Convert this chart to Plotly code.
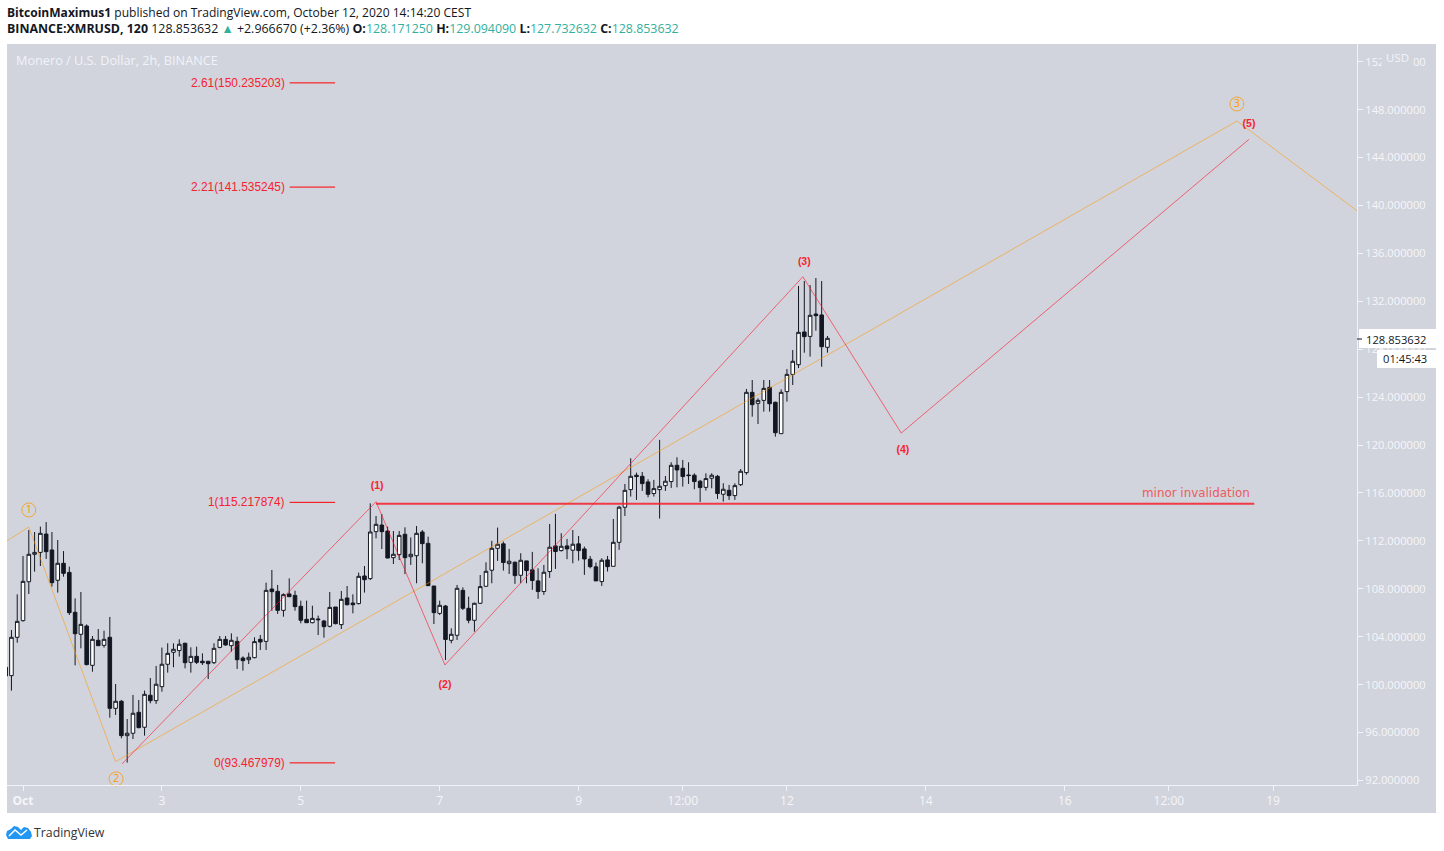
import pandas as pd
import plotly.graph_objects as go

# 2h candles, first one is Sep 30 18:00
start_date = "2020-09-30 18:00"
opens = [101.45, 100.75, 103.95, 105.34, 108.59, 110.88, 111.04, 112.57, 111.24, 108.71, 110.13, 109.37,
         106.04, 104.20, 104.89, 101.61, 103.70, 103.28, 103.95, 98.02, 98.61, 95.74, 95.94, 97.69,
         96.44, 99.11, 98.66, 99.83, 101.70, 102.70, 102.84, 103.45, 101.86, 102.36, 101.95, 101.95,
         101.83, 103.11, 103.78, 103.25, 103.61, 102.22, 102.08, 102.25, 103.78, 103.61, 107.98, 107.79,
         106.20, 107.57, 107.45, 106.54, 105.45, 105.17, 105.48, 105.31, 104.87, 106.48, 105.01, 107.23,
         106.81, 106.76, 109.07, 108.85, 112.77, 113.32, 112.82, 110.60, 110.85, 112.55, 110.68, 110.76,
         112.74, 111.79, 108.23, 105.95, 106.56, 103.70, 104.12, 107.87, 106.37, 105.37, 106.79, 108.21,
         109.55, 111.38, 111.75, 110.10, 110.22, 109.13, 110.33, 109.58, 108.66, 107.77, 109.44, 111.58,
         111.19, 111.58, 111.22, 111.75, 111.33, 110.47, 109.83, 108.60, 110.41, 109.88, 111.88, 114.81,
         116.28, 117.48, 117.39, 116.92, 115.95, 116.28, 116.61, 116.95, 118.31, 118.06, 117.50, 117.48,
         116.98, 116.47, 117.23, 117.39, 115.89, 116.22, 115.78, 116.69, 117.70, 124.40, 123.48, 123.73,
         124.82, 123.57, 120.95, 124.46, 125.90, 126.71, 129.44, 129.07, 130.94, 130.86, 128.16]
highs = [101.80, 104.56, 107.54, 110.74, 112.91, 112.74, 113.19, 113.57, 112.74, 112.07, 111.15, 109.85,
         107.20, 107.73, 105.03, 104.06, 104.64, 104.50, 105.65, 100.05, 98.72, 97.13, 99.14, 98.72,
         99.50, 100.55, 101.56, 103.09, 103.45, 103.45, 103.78, 103.50, 103.11, 103.17, 102.61, 101.95,
         103.45, 104.06, 104.06, 104.28, 104.00, 102.36, 102.67, 103.95, 104.14, 108.51, 109.57, 108.32,
         107.62, 108.87, 107.84, 107.01, 107.01, 106.59, 105.76, 105.40, 107.73, 106.48, 107.82, 108.23,
         107.54, 109.35, 109.90, 115.13, 114.08, 114.24, 113.19, 112.82, 112.82, 113.13, 112.29, 113.24,
         112.91, 112.35, 108.23, 107.01, 106.65, 104.70, 108.32, 108.12, 107.34, 106.84, 109.15, 110.21,
         112.00, 113.11, 111.94, 111.33, 110.27, 110.97, 110.33, 111.08, 109.71, 109.99, 113.41, 114.25,
         112.64, 112.16, 112.91, 112.41, 111.52, 110.74, 110.19, 110.55, 110.74, 113.83, 114.92, 116.75,
         118.89, 117.70, 117.75, 117.14, 117.09, 120.43, 117.42, 118.56, 118.98, 118.76, 118.56, 117.64,
         117.09, 117.64, 117.64, 117.50, 116.81, 116.67, 116.81, 118.00, 124.68, 125.43, 123.90, 125.43,
         125.43, 123.62, 124.65, 126.35, 127.93, 133.28, 133.69, 133.36, 133.94, 133.69, 129.10]
lows = [100.50, 99.50, 103.50, 105.26, 107.57, 109.43, 109.90, 110.49, 108.18, 107.68, 109.01, 105.81,
        101.61, 103.03, 101.61, 101.08, 103.25, 103.09, 97.24, 97.47, 95.52, 93.49, 95.46, 96.35,
        95.74, 98.44, 98.39, 99.41, 101.00, 101.45, 102.34, 101.36, 101.00, 101.72, 101.64, 100.47,
        101.72, 103.03, 103.25, 102.75, 101.31, 101.17, 101.72, 102.20, 102.89, 102.89, 106.17, 105.90,
        105.67, 107.34, 106.17, 105.12, 105.17, 105.12, 104.14, 103.92, 104.78, 105.03, 104.64, 106.62,
        105.95, 106.70, 107.68, 108.73, 112.21, 111.32, 110.54, 110.07, 110.40, 109.23, 109.99, 108.46,
        110.13, 108.23, 105.06, 105.81, 102.06, 103.45, 103.73, 106.23, 105.12, 104.42, 106.73, 108.18,
        108.46, 110.33, 109.52, 109.24, 108.41, 108.46, 108.46, 107.91, 107.16, 107.49, 108.91, 109.66,
        111.11, 110.47, 110.13, 110.35, 109.16, 109.71, 108.66, 108.24, 109.44, 109.85, 111.25, 114.08,
        115.70, 115.42, 116.17, 115.64, 115.70, 113.86, 116.17, 116.42, 116.47, 116.53, 116.75, 116.31,
        115.25, 116.20, 116.39, 115.50, 115.28, 115.42, 115.42, 116.58, 117.53, 122.37, 121.76, 122.79,
        122.79, 120.70, 120.92, 123.62, 125.01, 126.43, 127.71, 127.38, 129.55, 126.54, 127.71]
closes = [100.72, 103.95, 105.28, 108.62, 110.88, 111.04, 112.63, 111.10, 108.51, 110.13, 109.29, 106.01,
          104.25, 105.03, 101.67, 103.78, 103.25, 103.78, 98.02, 98.61, 95.74, 95.94, 97.61, 96.41,
          99.19, 98.66, 100.03, 101.70, 102.61, 102.95, 103.37, 101.83, 102.36, 101.86, 101.83, 101.75,
          103.03, 103.78, 103.31, 103.70, 102.08, 102.00, 102.28, 103.59, 103.56, 107.87, 107.76, 106.20,
          107.51, 107.34, 106.51, 105.37, 105.17, 105.53, 105.42, 104.84, 106.45, 105.09, 107.12, 106.67,
          106.67, 109.04, 108.76, 112.74, 113.38, 112.77, 110.57, 110.88, 112.46, 110.60, 110.88, 112.63,
          111.77, 108.26, 106.01, 106.62, 103.77, 104.20, 108.04, 106.37, 105.37, 106.79, 108.18, 109.46,
          111.38, 111.72, 110.19, 110.30, 109.10, 110.38, 109.52, 108.69, 107.77, 109.38, 111.47, 111.11,
          111.55, 111.33, 111.72, 111.19, 110.49, 109.85, 108.66, 110.38, 109.85, 111.88, 114.81, 116.22,
          117.39, 117.37, 116.78, 115.89, 116.36, 116.56, 116.98, 118.31, 117.92, 117.37, 117.45, 116.95,
          116.45, 117.20, 117.48, 115.95, 116.31, 115.78, 116.61, 117.81, 124.40, 123.37, 123.73, 124.73,
          123.45, 121.03, 124.40, 125.90, 126.99, 129.41, 129.05, 130.83, 130.80, 128.21, 128.91]

# elliott wave drawings
red_wave_dates = ["2020-10-02 10:13", "2020-10-06 02:00", "2020-10-07 01:50", "2020-10-12 05:30",
                  "2020-10-13 15:30", "2020-10-18 15:40"]
red_wave_prices = [93.38, 115.27, 101.64, 134.05, 121.00, 145.52]
orange_wave_dates = ["2020-09-30 18:28", "2020-10-01 02:00", "2020-10-02 08:00", "2020-10-18 11:30",
                     "2020-10-20 05:00"]
orange_wave_prices = [112.00, 113.16, 93.57, 147.05, 139.56]

red_label_text = ["(1)", "(2)", "(3)", "(4)", "(5)"]
red_label_dates = ["2020-10-06 02:24", "2020-10-07 01:50", "2020-10-12 06:00", "2020-10-13 16:05",
                   "2020-10-18 15:40"]
red_label_prices = [116.51, 99.97, 135.28, 119.55, 146.80]
orange_label_text = ["1", "2", "3"]
orange_label_dates = ["2020-10-01 02:00", "2020-10-02 08:10", "2020-10-18 11:30"]
orange_label_prices = [114.58, 92.13, 148.47]

fib_ratios = ["2.61", "2.21", "1", "0"]
fib_prices = [150.235203, 141.535245, 115.217874, 93.467979]
fib_start = "2020-10-04 20:10"
fib_end = "2020-10-05 11:50"

invalidation_dates = ["2020-10-06 02:00", "2020-10-18 17:30"]
invalidation_prices = [115.10, 115.10]

y_ticks = list(range(92, 156, 4))
x_tick_dates = ["2020-10-01", "2020-10-03", "2020-10-05", "2020-10-07", "2020-10-09", "2020-10-10 12:00",
                "2020-10-12", "2020-10-14", "2020-10-16", "2020-10-17 12:00", "2020-10-19"]
x_tick_labels = ["<b>Oct</b>", "3", "5", "7", "9", "12:00", "12", "14", "16", "12:00", "19"]

BG = "#D1D4DC"
DARK = "#131722"
RED = "#F7232F"
TEAL = "#32B09E"
FONT = "Open Sans"
W, H = 1444, 851
LEFT, RIGHT, TOP, BOTTOM = 7, 1357, 44, 785


# paper coordinates are relative to the plot area, so screen pixels need converting
def px(x):
    return (x - LEFT) / (RIGHT - LEFT)


def py(y):
    return (BOTTOM - y) / (BOTTOM - TOP)


def paper_path(points, close=False):
    path = "M " + " L ".join("%f %f" % (px(x), py(y)) for x, y in points)
    return path + " Z" if close else path


dates = pd.date_range(start_date, periods=len(opens), freq="2h")

fig = go.Figure()
fig.add_trace(go.Candlestick(x=dates, open=opens, high=highs, low=lows, close=closes,
                             whiskerwidth=0,
                             increasing=dict(line=dict(color=DARK, width=1), fillcolor="#FFFFFF"),
                             decreasing=dict(line=dict(color=DARK, width=1), fillcolor=DARK),
                             hoverinfo="skip", showlegend=False))
fig.add_trace(go.Scatter(x=orange_wave_dates, y=orange_wave_prices, mode="lines",
                         line=dict(color="rgba(255,152,0,0.55)", width=1), showlegend=False))
fig.add_trace(go.Scatter(x=red_wave_dates, y=red_wave_prices, mode="lines",
                         line=dict(color="rgba(255,20,40,0.6)", width=1), showlegend=False))
fig.add_trace(go.Scatter(x=invalidation_dates, y=invalidation_prices, mode="lines",
                         line=dict(color="rgba(245,30,45,0.85)", width=1.8), showlegend=False))
for p in fib_prices:
    fig.add_trace(go.Scatter(x=[fib_start, fib_end], y=[p, p], mode="lines",
                             line=dict(color="#FF0000", width=1), showlegend=False))
fig.add_trace(go.Scatter(x=red_label_dates, y=red_label_prices, mode="text",
                         text=["<b>%s</b>" % t for t in red_label_text],
                         textposition="middle center",
                         textfont=dict(color=RED, size=10.5, family="Liberation Sans"), showlegend=False))
fig.add_trace(go.Scatter(x=orange_label_dates, y=orange_label_prices, mode="markers+text",
                         text=orange_label_text, textposition="middle center",
                         marker=dict(symbol="circle-open", size=14, color="#F7A530", line=dict(width=1)),
                         cliponaxis=False,
                         textfont=dict(color="#FF9800", size=11, family=FONT), showlegend=False))

annotations = []
for r, p in zip(fib_ratios, fib_prices):
    annotations.append(dict(x="2020-10-04 19:15", y=p, xref="x", yref="y", xanchor="right", yanchor="middle",
                            text="%s(%.6f)" % (r, p), showarrow=False,
                            font=dict(color=RED, size=11.9, family="Liberation Sans")))
annotations.append(dict(x=px(1252), y=py(493), xref="paper", yref="paper", xanchor="right", yanchor="middle",
                        text="minor invalidation", showarrow=False,
                        font=dict(color="#EE5A60", size=11.9, family="DejaVu Sans")))

header1 = "<b>BitcoinMaximus1</b> published on TradingView.com, October 12, 2020 14:14:20 CEST"
header2 = ("<b>BINANCE:XMRUSD, 120</b> 128.853632 <span style='color:%s'>▲</span> +2.966670 (+2.36%%) "
           "<b>O:</b><span style='color:%s'>128.171250</span> <b>H:</b><span style='color:%s'>129.094090</span> "
           "<b>L:</b><span style='color:%s'>127.732632</span> <b>C:</b><span style='color:%s'>128.853632</span>"
           % (TEAL, TEAL, TEAL, TEAL, TEAL))
annotations += [
    dict(x=px(6), y=py(13), text=header1, font=dict(color="#131722", size=12.05, family=FONT)),
    dict(x=px(6), y=py(29), text=header2, font=dict(color="#131722", size=12.4, family=FONT)),
    dict(x=px(15), y=py(60), text="Monero / U.S. Dollar, 2h, BINANCE", font=dict(color="#F0F3FA", size=12.7, family=FONT)),
    dict(x=px(33), y=py(832), text="TradingView", font=dict(color="#333333", size=12.3, family=FONT)),
]
for a in annotations[-4:]:
    a.update(xref="paper", yref="paper", xanchor="left", yanchor="middle", showarrow=False, borderpad=0)

# price scale overlays
annotations += [
    dict(x=px(1397), y=py(58), text="USD", xref="paper", yref="paper", xanchor="center", yanchor="middle",
         showarrow=False, bgcolor=BG, borderpad=4, font=dict(color="#F0F3FA", size=11.5, family=FONT)),
    dict(x=px(1429), y=py(339), text="128.853632", xref="paper", yref="paper", xanchor="right", yanchor="middle",
         showarrow=False, font=dict(color=DARK, size=11.2, family=FONT)),
    dict(x=px(1429), y=py(358), text="01:45:43", xref="paper", yref="paper", xanchor="right", yanchor="middle",
         showarrow=False, font=dict(color=DARK, size=11.2, family=FONT)),
]

logo_outline = [(8, 839), (6, 835), (7, 831), (11, 829), (14, 826), (18, 827), (21, 830), (24, 827), (28, 828),
                (31, 832), (32, 836), (30, 839)]
logo_wave = [(9, 836), (15, 830), (21, 835), (27, 830)]

shapes = [
    dict(type="rect", xref="paper", yref="paper", x0=px(7), x1=px(1436), y0=py(813), y1=py(44),
         fillcolor=BG, line=dict(width=0), layer="below"),
    dict(type="rect", xref="paper", yref="paper", x0=px(1359), x1=px(1436), y0=py(348), y1=py(329),
         fillcolor="#FFFFFF", line=dict(width=0), layer="above"),
    dict(type="rect", xref="paper", yref="paper", x0=px(1377), x1=px(1436), y0=py(368), y1=py(350),
         fillcolor="#FFFFFF", line=dict(width=0), layer="above"),
    dict(type="line", xref="paper", yref="paper", x0=px(1357), x1=px(1362), y0=py(339), y1=py(339),
         line=dict(color=DARK, width=1), layer="above"),
    dict(type="path", xref="paper", yref="paper", fillcolor="#2196F3", line=dict(width=0),
         path=paper_path(logo_outline, close=True)),
    dict(type="path", xref="paper", yref="paper", line=dict(color="#FFFFFF", width=1.5),
         path=paper_path(logo_wave)),
]

fig.update_layout(
    width=W, height=H, autosize=False,
    margin=dict(l=LEFT, r=W - RIGHT, t=TOP, b=H - BOTTOM, pad=0),
    paper_bgcolor="#FFFFFF", plot_bgcolor="rgba(0,0,0,0)", boxgap=0.12,
    showlegend=False, annotations=annotations, shapes=shapes,
    xaxis=dict(type="date", range=["2020-09-30 18:28", "2020-10-20 05:00"], rangeslider=dict(visible=False),
               tickmode="array", tickvals=x_tick_dates, ticktext=x_tick_labels, showgrid=False, zeroline=False,
               showline=True, linecolor="#F0F3FA", linewidth=1, ticks="outside", ticklen=5, tickcolor="#F0F3FA",
               tickfont=dict(color="#F5F6FA", size=12, family=FONT)),
    yaxis=dict(side="right", range=[91.62, 153.48], tickmode="array", tickvals=y_ticks,
               ticktext=["%.6f" % v for v in y_ticks], showgrid=False, zeroline=False,
               showline=True, linecolor="#F0F3FA", linewidth=1, ticks="outside", ticklen=5, tickcolor="#F0F3FA",
               tickfont=dict(color="#F5F6FA", size=11.2, family=FONT)),
)

fig.write_html("out.html", config=dict(displayModeBar=False),
               post_script="document.body.style.margin='0';document.body.style.overflow='hidden';")
